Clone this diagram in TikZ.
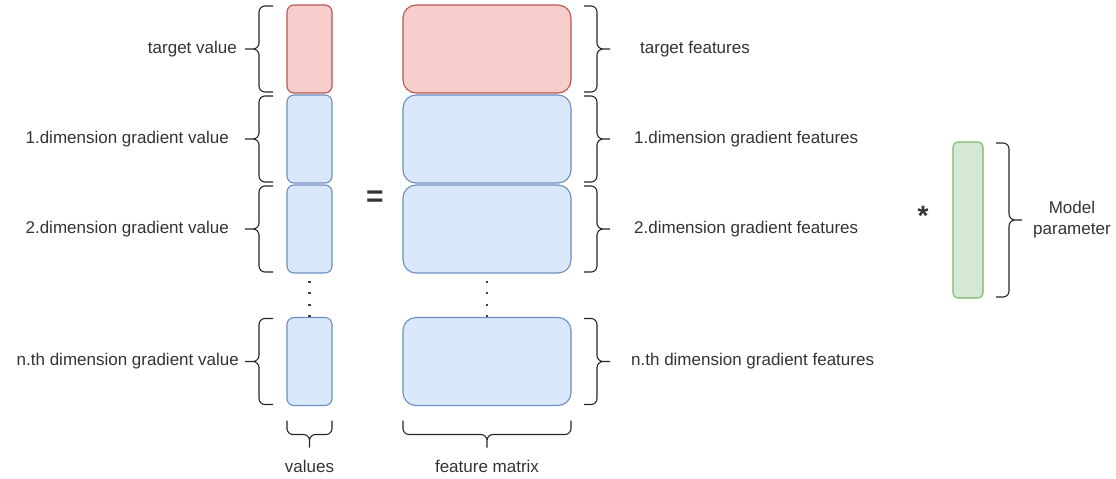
\documentclass[tikz,border=0pt]{standalone}
\usepackage{fontspec}
\setmainfont{Liberation Sans}
\usepackage{tikz}
\usetikzlibrary{calc}
\definecolor{txt}{HTML}{333333}
\definecolor{redfill}{HTML}{F8CECC}
\definecolor{redline}{HTML}{B85450}
\definecolor{bluefill}{HTML}{DAE8FC}
\definecolor{blueline}{HTML}{6C8EBF}
\definecolor{greenfill}{HTML}{D5E8D4}
\definecolor{greenline}{HTML}{82B366}
\tikzstyle{box} = [rectangle, inner sep=0pt, outer sep=0pt, line width=1.1pt]
\tikzstyle{val} = [box, minimum width=45pt, minimum height=88pt, rounded corners=7pt]
\tikzstyle{feat} = [box, minimum width=168pt, minimum height=88pt, rounded corners=13pt]
\tikzstyle{tgt} = [fill=redfill, draw=redline]
\tikzstyle{grad} = [fill=bluefill, draw=blueline]
\tikzstyle{lbl} = [inner sep=0pt, text=txt, font=\fontsize{17}{21}\selectfont]
\tikzstyle{brc} = [line width=1.1pt, black!85, rounded corners=6pt]
\tikzstyle{dots} = [line width=2.4pt, black!75, dash pattern=on 2.4pt off 9.1pt, dash phase=4pt]
% braces around a node: left, right and below it
\newcommand{\leftbrc}[1]{%
  \draw[brc] ([shift={(-14pt,-1pt)}]#1.north west) -- ++(-14pt,0) |- ([xshift=-42pt]#1.west)
             ([xshift=-42pt]#1.west) -| ([shift={(-28pt,1pt)}]#1.south west) -- ([shift={(-14pt,1pt)}]#1.south west);}
\newcommand{\rightbrc}[1]{%
  \draw[brc] ([shift={(13pt,-1pt)}]#1.north east) -- ++(13pt,0) |- ([xshift=39pt]#1.east)
             ([xshift=39pt]#1.east) -| ([shift={(26pt,1pt)}]#1.south east) -- ([shift={(13pt,1pt)}]#1.south east);}
\newcommand{\downbrc}[1]{%
  \draw[brc] ([yshift=-15pt]#1.south west) -- ++(0,-14pt) -| ([yshift=-42pt]#1.south)
             ([yshift=-42pt]#1.south) |- ([yshift=-29pt]#1.south east) -- ([yshift=-15pt]#1.south east);}
\begin{document}
\begin{tikzpicture}[x=1pt, y=-1pt]
  \useasboundingbox (0,0) rectangle (1116,479);

  % values column
  \node [val, tgt]  (tv) at (309.5,49)    {};
  \node [val, grad] (v1) at (309.5,139)   {};
  \node [val, grad] (v2) at (309.5,229)   {};
  \node [val, grad] (vn) at (309.5,361.5) {};

  % feature matrix
  \node [feat, tgt]  (tf) at (487,49)    {};
  \node [feat, grad] (f1) at (487,139)   {};
  \node [feat, grad] (f2) at (487,229)   {};
  \node [feat, grad] (fn) at (487,361.5) {};

  % model parameter
  \node [box, fill=greenfill, draw=greenline, minimum width=30pt, minimum height=156pt,
         rounded corners=5pt] (mp) at (968,220) {};

  \draw[dots] (v2.south) -- (vn.north);
  \draw[dots] (f2.south) -- (fn.north);

  % braces
  \leftbrc{tv} \leftbrc{v1} \leftbrc{v2} \leftbrc{vn}
  \rightbrc{tf} \rightbrc{f1} \rightbrc{f2} \rightbrc{fn}
  \rightbrc{mp}
  \downbrc{vn} \downbrc{fn}

  % labels
  \node [lbl, anchor=east] (ltv) at ([xshift=-50pt]tv.west) {target value};
  \node [lbl, anchor=east] (lv1) at ([xshift=-58pt]v1.west) {1.dimension gradient value};
  \node [lbl, anchor=east] (lv2) at ([xshift=-58pt]v2.west) {2.dimension gradient value};
  \node [lbl, anchor=east] (lvn) at ([xshift=-48pt]vn.west) {n.th dimension gradient value};

  \node [lbl, anchor=west] (ltf) at ([xshift=69pt]tf.east) {target features};
  \node [lbl, anchor=west] (lf1) at ([xshift=63pt]f1.east) {1.dimension gradient features};
  \node [lbl, anchor=west] (lf2) at ([xshift=63pt]f2.east) {2.dimension gradient features};
  \node [lbl, anchor=west] (lfn) at ([xshift=60pt]fn.east) {n.th dimension gradient features};

  \node [lbl] (lval) at ([yshift=-61pt]vn.south) {values};
  \node [lbl] (lfm)  at ([yshift=-61pt]fn.south) {feature matrix};
  \node [lbl, anchor=west, align=center] (lmp) at ([xshift=50pt]mp.east) {Model\\parameter};

  % operators
  \node [lbl, font=\fontsize{30}{30}\selectfont\bfseries] (eq) at (375,199) {=};
  \node [lbl, font=\fontsize{28}{28}\selectfont\bfseries] (mul) at (923,216) {*};
\end{tikzpicture}
\end{document}
